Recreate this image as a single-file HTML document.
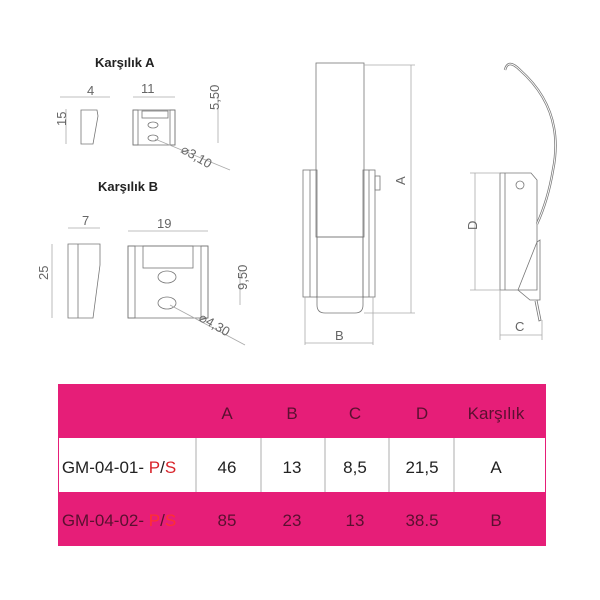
<!DOCTYPE html>
<html><head><style>
body{margin:0;background:#fff;width:600px;height:600px;overflow:hidden;font-family:"Liberation Sans",sans-serif}
svg{position:absolute;left:0;top:0}
</style></head><body>
<svg width="600" height="600" viewBox="0 0 600 600">
<g fill="none" stroke="#777" stroke-width="0.8">
<path d="M81 110 L97 110 L98 116 L93 144 L81 144 Z"/>
<line x1="60" y1="97" x2="110" y2="97" stroke="#aaa"/>
<line x1="66" y1="109" x2="66" y2="144" stroke="#aaa"/>
<rect x="133" y="110" width="42" height="35"/>
<rect x="133" y="110" width="5" height="35"/><rect x="170" y="110" width="5" height="35"/>
<rect x="142" y="111" width="26" height="7"/>
<ellipse cx="153" cy="125" rx="5" ry="3"/><ellipse cx="153" cy="138" rx="5" ry="3"/>
<line x1="133" y1="97" x2="175" y2="97" stroke="#aaa"/>
<line x1="218" y1="95" x2="218" y2="143" stroke="#aaa"/>
<line x1="155" y1="139" x2="230" y2="170" stroke="#aaa"/>
<path d="M68 244 L100 244 L100 265 L93 318 L68 318 Z"/><line x1="78" y1="244" x2="78" y2="318"/>
<line x1="68" y1="228" x2="100" y2="228" stroke="#aaa"/>
<line x1="52" y1="244" x2="52" y2="318" stroke="#aaa"/>
<rect x="128" y="246" width="80" height="72"/>
<rect x="128" y="246" width="7" height="72"/><rect x="201" y="246" width="7" height="72"/>
<rect x="143" y="246" width="50" height="22"/>
<ellipse cx="167" cy="277" rx="9" ry="6"/><ellipse cx="167" cy="303" rx="9" ry="6"/>
<line x1="128" y1="231" x2="208" y2="231" stroke="#aaa"/>
<line x1="240" y1="270" x2="240" y2="305" stroke="#aaa"/>
<line x1="170" y1="305" x2="245" y2="345" stroke="#aaa"/>
<rect x="316" y="63" width="48" height="174"/>
<path d="M317 237 L363 237 L363 305 Q363 313 355 313 L325 313 Q317 313 317 305 Z"/>
<line x1="316" y1="297" x2="364" y2="297"/>
<rect x="303" y="170" width="14" height="127"/><rect x="363" y="170" width="12" height="127"/>
<line x1="310" y1="170" x2="310" y2="297"/><line x1="369" y1="170" x2="369" y2="297"/>
<rect x="375" y="176" width="5" height="14"/>
<line x1="364" y1="65" x2="415" y2="65" stroke="#aaa"/><line x1="364" y1="313" x2="415" y2="313" stroke="#aaa"/>
<line x1="411" y1="65" x2="411" y2="313" stroke="#aaa"/>
<line x1="305" y1="297" x2="305" y2="345" stroke="#aaa"/><line x1="373" y1="297" x2="373" y2="345" stroke="#aaa"/>
<line x1="305" y1="343" x2="373" y2="343" stroke="#aaa"/>
<path d="M500 173 L531 173 L537 180 L537 290 L500 290 Z"/>
<line x1="505" y1="173" x2="505" y2="290"/>
<circle cx="520" cy="185" r="4"/>
<path d="M537 242 L540 240 L540 300 L530 300 L518 290 Z"/>
<path d="M537 300 L541 320 L539 321 L535 301"/>
<path d="M505 70 Q508 58 520 70 Q565 110 553 170 Q548 200 537 224" stroke-width="2.4"/>
<path d="M505 70 Q508 58 520 70 Q565 110 553 170 Q548 200 537 224" stroke="#fff" stroke-width="0.9"/>
<line x1="470" y1="173" x2="500" y2="173" stroke="#aaa"/><line x1="470" y1="290" x2="500" y2="290" stroke="#aaa"/>
<line x1="475" y1="173" x2="475" y2="290" stroke="#aaa"/>
<line x1="500" y1="290" x2="500" y2="340" stroke="#aaa"/><line x1="542" y1="320" x2="542" y2="340" stroke="#aaa"/>
<line x1="500" y1="335" x2="542" y2="335" stroke="#aaa"/>
</g>
<g font-family="Liberation Sans, sans-serif" fill="#222">
<text x="95" y="67" font-size="13" font-weight="bold">Karşılık A</text>
<text x="98" y="191" font-size="13" font-weight="bold">Karşılık B</text>
</g>
<g font-family="Liberation Sans, sans-serif" fill="#666" font-size="13">
<text x="87" y="95">4</text>
<text x="141" y="93">11</text>
<text x="61" y="131" transform="rotate(-90 61 126)">15</text>
<text x="209" y="120" transform="rotate(-90 209 110)">5,50</text>
<text x="180" y="152" transform="rotate(30 180 152)">⌀3,10</text>
<text x="82" y="225">7</text>
<text x="157" y="228">19</text>
<text x="44" y="284" transform="rotate(-90 44 280)">25</text>
<text x="237" y="300" transform="rotate(-90 237 290)">9,50</text>
<text x="198" y="320" transform="rotate(30 198 320)">⌀4,30</text>
<text x="400" y="190" transform="rotate(-90 400 185)">A</text>
<text x="335" y="340">B</text>
<text x="472" y="235" transform="rotate(-90 472 230)">D</text>
<text x="515" y="331">C</text>
</g>
<rect x="58" y="384" width="488" height="162" fill="#e61e78"/>
<rect x="59" y="438" width="486" height="54" fill="#fff"/>
<g stroke="#999" stroke-width="0.8">
<line x1="196" y1="438" x2="196" y2="492"/><line x1="261" y1="438" x2="261" y2="492"/>
<line x1="325" y1="438" x2="325" y2="492"/><line x1="389" y1="438" x2="389" y2="492"/>
<line x1="454" y1="438" x2="454" y2="492"/>
</g>
<g font-family="Liberation Sans, sans-serif" font-size="17" text-anchor="middle" fill="#5a1030">
<text x="227" y="419">A</text><text x="292" y="419">B</text><text x="355" y="419">C</text><text x="422" y="419">D</text><text x="496" y="419">Karşılık</text>
<g fill="#222"><text x="227" y="473">46</text><text x="292" y="473">13</text><text x="355" y="473">8,5</text><text x="422" y="473">21,5</text><text x="496" y="473">A</text>
<text x="119" y="473">GM-04-01- <tspan fill="#d8232a">P</tspan>/<tspan fill="#d8232a">S</tspan></text></g>
<text x="227" y="526">85</text><text x="292" y="526">23</text><text x="355" y="526">13</text><text x="422" y="526">38.5</text><text x="496" y="526">B</text>
<text x="119" y="526">GM-04-02- <tspan fill="#ff3030">P</tspan>/<tspan fill="#ff3030">S</tspan></text>
</g>
</svg>
</body></html>
